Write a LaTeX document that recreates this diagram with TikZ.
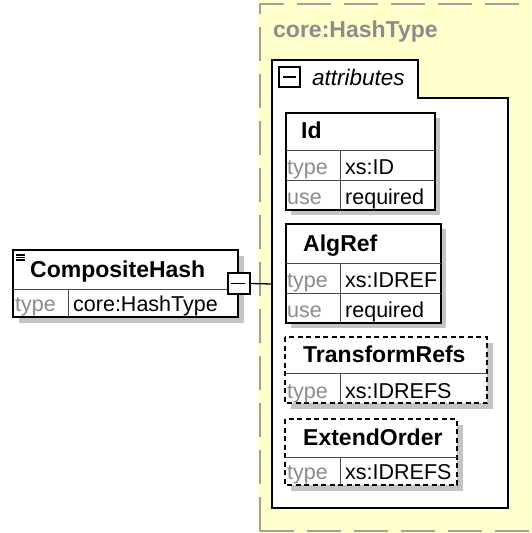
\documentclass[tikz,border=0pt]{standalone}
\usepackage{fontspec}
\setmainfont{Liberation Sans}
\definecolor{paleyellow}{RGB}{255,255,204}
\definecolor{framegray}{RGB}{160,160,160}
\definecolor{shadegray}{RGB}{196,196,196}
\definecolor{labelgray}{RGB}{140,140,140}
\tikzset{
  box/.style={draw=black, line width=1.6pt, fill=white},
  dashbox/.style={draw=black, line width=1.6pt, dash pattern=on 5pt off 3.5pt, fill=white},
  rule/.style={draw=black!70, line width=0.9pt},
  shadow/.style={fill=shadegray},
  txt/.style={anchor=base west, inner sep=0pt, font=\fontsize{21.5}{21.5}\selectfont},
  head/.style={anchor=base west, inner sep=0pt, font=\fontsize{23}{23}\selectfont\bfseries},
  meta/.style={txt, text=labelgray},
  fold/.style={draw=black, line width=1.4pt, fill=white, minimum width=22pt, minimum height=21pt, inner sep=0pt},
}
\begin{document}
\begin{tikzpicture}[x=1pt, y=-1pt]
        \useasboundingbox (0,0) rectangle (531,533);

        % Complex type area
        \fill[paleyellow] (257,0) rectangle (531,533);
        \draw[framegray, line width=2.5pt, dash pattern=on 34pt off 13pt] (260,531) -- (260,4) -- (531,4);
        \draw[framegray, line width=2.5pt, dash pattern=on 34pt off 13pt] (260,531) -- (531,531);
        \node[head, text=labelgray] (typename) at (273,37) {core:HashType};

        % Attributes container
        \draw[box] (272,60) -- (418,60) -- (418,98) -- (508,98) -- (508,508) -- (272,508) -- cycle;
        \draw[line width=1.3pt] (279,67) rectangle (300,87);
        \draw[line width=1.5pt] (283,77) -- (296,77);
        \node[txt, font=\fontsize{22.5}{22.5}\selectfont\itshape] (attrs) at (312,85) {attributes};
        \coordinate (attrbox) at (272,284);

        % Element
        \fill[shadow] (19,256) rectangle (244,323);
        \draw[box] (13,250) rectangle (238,317);
        \draw[rule] (13,289) -- (238,289);
        \draw[rule] (68,289) -- (68,317);
        \foreach \y in {255, 257.5, 260} {
            \draw[line width=1.2pt] (16,\y) -- (25,\y);
        }
        \node[head] (element) at (30,277) {CompositeHash};
        \node[meta] (elemkey) at (15,311) {type};
        \node[txt] (elemtype) at (73,311) {core:HashType};
        \node[fold] (expand) at (239,283.5) {};
        \draw[line width=1.5pt] (expand.west) ++(4,0) -- ++(14,0);
        \draw[line width=1.3pt] (expand.east) -- (attrbox);

        % Attributes
        %% Id
        \fill[shadow] (291,118) rectangle (440,215);
        \draw[box] (286,113) rectangle (435,210);
        \draw[rule] (286,150) -- (435,150);
        \draw[rule] (286,180) -- (435,180);
        \draw[rule] (340,150) -- (340,210);
        \node[head] (idname) at (301,138) {Id};
        \node[meta] (idkey) at (287,174) {type};
        \node[txt] (idtype) at (345,174) {xs:ID};
        \node[meta] (idusekey) at (287,204) {use};
        \node[txt] (iduse) at (345,204) {required};

        %% AlgRef
        \fill[shadow] (291,229) rectangle (446,328);
        \draw[box] (286,224) rectangle (441,323);
        \draw[rule] (286,263) -- (441,263);
        \draw[rule] (286,293) -- (441,293);
        \draw[rule] (340,263) -- (340,323);
        \node[head] (algname) at (303,251) {AlgRef};
        \node[meta] (algkey) at (287,287) {type};
        \node[txt] (algtype) at (345,287) {xs:IDREF};
        \node[meta] (algusekey) at (287,317) {use};
        \node[txt] (alguse) at (345,317) {required};

        %% TransformRefs
        \fill[shadow] (291,343) rectangle (493,409);
        \draw[dashbox] (285,337) rectangle (487,403);
        \draw[rule] (285,373) -- (487,373);
        \draw[rule] (340,373) -- (340,403);
        \node[head] (trname) at (303,362) {TransformRefs};
        \node[meta] (trkey) at (287,398) {type};
        \node[txt] (trtype) at (345,398) {xs:IDREFS};

        %% ExtendOrder
        \fill[shadow] (291,425) rectangle (463,491);
        \draw[dashbox] (285,419) rectangle (457,485);
        \draw[rule] (285,457) -- (457,457);
        \draw[rule] (340,457) -- (340,485);
        \node[head] (eoname) at (303,445) {ExtendOrder};
        \node[meta] (eokey) at (287,479) {type};
        \node[txt] (eotype) at (345,479) {xs:IDREFS};
    \end{tikzpicture}
\end{document}
